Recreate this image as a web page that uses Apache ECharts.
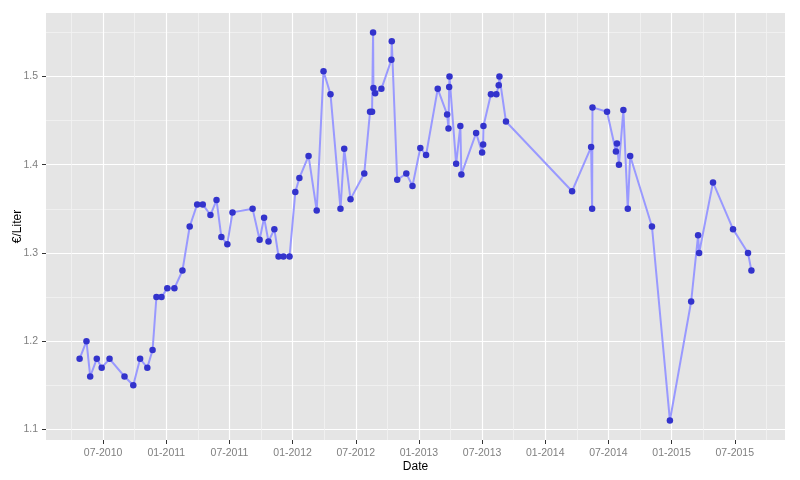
<!DOCTYPE html>
<html>
<head>
<meta charset="utf-8">
<script src="https://cdn.jsdelivr.net/npm/echarts@6/dist/echarts.min.js"></script>
<style>
  html, body { margin: 0; padding: 0; background: #ffffff; }
  #chart { width: 800px; height: 480px; }
</style>
</head>
<body>
<div id="chart"></div>
<script>
// ---- data ----
const dates = [
  '2010-04-24','2010-05-14','2010-05-25','2010-06-13','2010-06-27','2010-07-20','2010-09-02','2010-09-27',
  '2010-10-17','2010-11-07','2010-11-22','2010-12-03','2010-12-18','2011-01-04','2011-01-25','2011-02-16',
  '2011-03-08','2011-03-30','2011-04-15','2011-05-07','2011-05-25','2011-06-08','2011-06-25','2011-07-10',
  '2011-09-07','2011-09-27','2011-10-10','2011-10-23','2011-11-09','2011-11-21','2011-12-05','2011-12-23',
  '2012-01-09','2012-01-21','2012-02-16','2012-03-10','2012-03-30','2012-04-19','2012-05-18','2012-05-29',
  '2012-06-16','2012-07-26','2012-08-12','2012-08-18','2012-08-21','2012-08-22','2012-08-27','2012-09-14',
  '2012-10-13','2012-10-14','2012-10-30','2012-11-25','2012-12-13','2013-01-05','2013-01-22','2013-02-23',
  '2013-03-22','2013-03-26','2013-03-28','2013-03-29','2013-04-17','2013-04-29','2013-05-02','2013-06-14',
  '2013-07-01','2013-07-04','2013-07-05','2013-07-27','2013-08-12','2013-08-19','2013-08-21','2013-09-09',
  '2014-03-18','2014-05-12','2014-05-15','2014-05-16','2014-06-27','2014-07-23','2014-07-26','2014-08-01',
  '2014-08-14','2014-08-27','2014-09-03','2014-11-05','2014-12-27','2015-02-25','2015-03-17','2015-03-20',
  '2015-04-29','2015-06-26','2015-08-09','2015-08-19'
];
const prices = [
  1.18, 1.20, 1.16, 1.18, 1.17, 1.18, 1.16, 1.15,
  1.18, 1.17, 1.19, 1.25, 1.25, 1.26, 1.26, 1.28,
  1.33, 1.355, 1.355, 1.343, 1.36, 1.318, 1.31, 1.346,
  1.35, 1.315, 1.34, 1.313, 1.327, 1.296, 1.296, 1.296,
  1.369, 1.385, 1.41, 1.348, 1.506, 1.48, 1.35, 1.418,
  1.361, 1.39, 1.46, 1.46, 1.55, 1.487, 1.481, 1.486,
  1.519, 1.54, 1.383, 1.39, 1.376, 1.419, 1.411, 1.486,
  1.457, 1.441, 1.488, 1.50, 1.401, 1.444, 1.389, 1.436,
  1.414, 1.423, 1.444, 1.48, 1.48, 1.49, 1.50, 1.449,
  1.37, 1.42, 1.35, 1.465, 1.46, 1.415, 1.424, 1.40,
  1.462, 1.35, 1.41, 1.33, 1.11, 1.245, 1.32, 1.30,
  1.38, 1.327, 1.30, 1.28
];
const xTickLabels = ['07-2010','01-2011','07-2011','01-2012','07-2012','01-2013','07-2013','01-2014','07-2014','01-2015','07-2015'];
const yTickLabels = ['1.1','1.2','1.3','1.4','1.5'];

// ---- helpers ----
const BASE_YEAR = 2010;
function toMonthIndex(s) {
  const [y, m, d] = s.split('-').map(Number);
  const dim = new Date(Date.UTC(y, m, 0)).getUTCDate();
  return (y - BASE_YEAR) * 12 + (m - 1) + (d - 1) / dim;
}
function labelToMonthIndex(lab) {
  const [m, y] = lab.split('-').map(Number);
  return (y - BASE_YEAR) * 12 + (m - 1);
}
const xMajor = xTickLabels.map(labelToMonthIndex);
const xMinor = [];
for (let i = 0; i <= xMajor.length; i++) {
  const prev = i === 0 ? xMajor[0] - 6 : xMajor[i - 1];
  xMinor.push(prev + 3);
}
const yMajor = yTickLabels.map(Number);
const yMinor = yMajor.map(v => +(v + 0.05).toFixed(2));

const xs = dates.map(toMonthIndex);
const xLo = Math.min(...xs), xHi = Math.max(...xs);
const xMin = xLo - 0.05 * (xHi - xLo), xMax = xHi + 0.05 * (xHi - xLo);
const yLo = Math.min(...prices), yHi = Math.max(...prices);
const yMin = yLo - 0.05 * (yHi - yLo), yMax = yHi + 0.05 * (yHi - yLo);

const seriesData = xs.map((x, i) => [x, prices[i]]);

const FONT = 'Liberation Sans, Arial, sans-serif';
const tickStyle = { show: true, length: 4, inside: false, lineStyle: { color: '#333333', width: 1 } };

const chart = echarts.init(document.getElementById('chart'), null, { renderer: 'canvas' });
chart.setOption({
  animation: false,
  backgroundColor: '#ffffff',
  grid: {
    left: 46, right: 15, top: 13, bottom: 40,
    show: true, backgroundColor: '#e5e5e5', borderWidth: 0,
    containLabel: false, outerBoundsMode: 'none'
  },
  xAxis: [
    {
      type: 'value', min: xMin, max: xMax, position: 'bottom',
      axisLine: { show: false },
      axisTick: Object.assign({}, tickStyle, { customValues: xMajor }),
      axisLabel: {
        customValues: xMajor,
        formatter: v => { const i = xMajor.findIndex(t => Math.abs(t - v) < 1e-6); return i >= 0 ? xTickLabels[i] : ''; },
        color: '#7f7f7f', fontSize: 10.5, fontFamily: FONT, margin: 8
      },
      splitLine: { show: true, lineStyle: { color: '#ffffff', width: 1.2 } },
      name: 'Date', nameLocation: 'middle', nameGap: 21, nameMoveOverlap: false,
      nameTextStyle: { color: '#000000', fontSize: 12, fontFamily: FONT }
    },
    {
      type: 'value', min: xMin, max: xMax, position: 'top',
      axisLine: { show: false },
      axisTick: { show: false, customValues: xMinor },
      axisLabel: { show: false, customValues: xMinor },
      splitLine: { show: true, lineStyle: { color: '#f2f2f2', width: 0.8 } }
    }
  ],
  yAxis: [
    {
      type: 'value', min: yMin, max: yMax, position: 'left',
      axisLine: { show: false },
      axisTick: Object.assign({}, tickStyle, { customValues: yMajor }),
      axisLabel: {
        customValues: yMajor,
        formatter: v => { const i = yMajor.findIndex(t => Math.abs(t - v) < 1e-6); return i >= 0 ? yTickLabels[i] : ''; },
        color: '#7f7f7f', fontSize: 10.5, fontFamily: FONT, margin: 8
      },
      splitLine: { show: true, lineStyle: { color: '#ffffff', width: 1.2 } },
      name: '€/Liter', nameLocation: 'middle', nameGap: 22, nameRotate: 90, nameMoveOverlap: false,
      nameTextStyle: { color: '#000000', fontSize: 12, fontFamily: FONT }
    },
    {
      type: 'value', min: yMin, max: yMax, position: 'right',
      axisLine: { show: false },
      axisTick: { show: false, customValues: yMinor },
      axisLabel: { show: false, customValues: yMinor },
      splitLine: { show: true, lineStyle: { color: '#f2f2f2', width: 0.8 } }
    }
  ],
  series: [
    {
      type: 'line', xAxisIndex: 0, yAxisIndex: 0,
      data: seriesData,
      showAllSymbol: true,
      symbol: 'circle', symbolSize: 6.5,
      lineStyle: { color: '#9999ff', width: 2 },
      itemStyle: { color: '#3333cc' },
      emphasis: { disabled: true },
      silent: true
    }
  ]
});
</script>
</body>
</html>
